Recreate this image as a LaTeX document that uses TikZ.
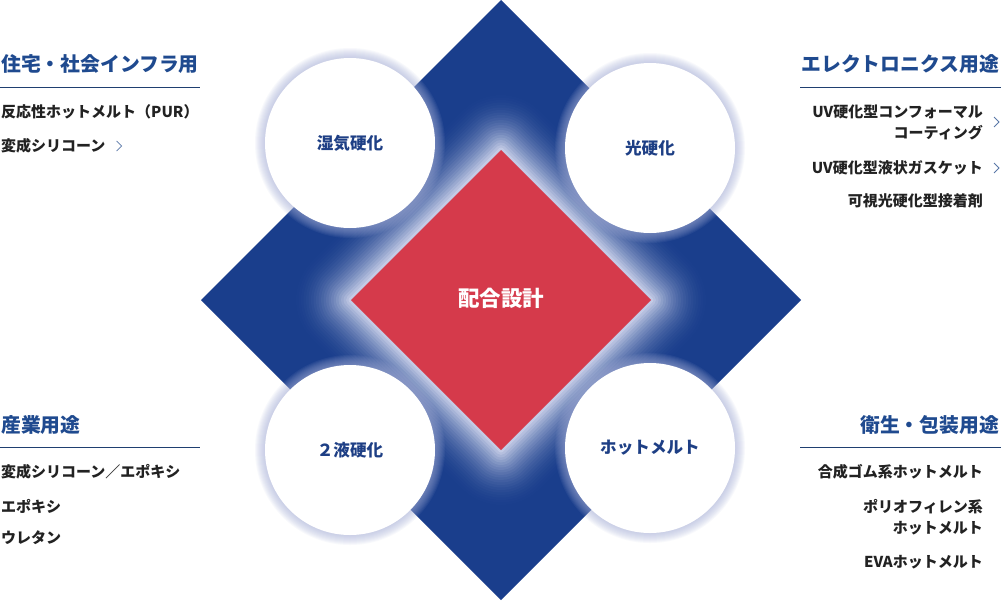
\documentclass[tikz,border=0pt]{standalone}
\usepackage{fontspec}
\setmainfont{Noto Sans CJK JP}
\usepackage{tikz}
\usetikzlibrary{positioning,calc}
\definecolor{diamondblue}{HTML}{1A3E8C}
\definecolor{corered}{HTML}{D53A4B}
\definecolor{glowwhite}{HTML}{D2D8EE}
\definecolor{halo}{HTML}{A9B2DA}
\definecolor{headblue}{HTML}{1F4A8F}
\definecolor{ruleblue}{HTML}{1F3F70}
\definecolor{cureblue}{HTML}{1E3F85}
\definecolor{itemgray}{HTML}{222222}
\definecolor{chevblue}{HTML}{5A78A8}
\tikzset{
  head/.style={font=\fontsize{19.8}{23}\selectfont\bfseries, text=headblue, inner sep=0pt},
  item/.style={font=\fontsize{15}{21}\selectfont\bfseries, text=itemgray, inner sep=0pt},
  cure/.style={circle, fill=white, minimum size=170pt, inner sep=0pt,
    font=\fontsize{16.6}{18}\selectfont\bfseries, text=cureblue},
  rule/.style={draw=ruleblue, line width=0.9pt},
  chev/.style={draw=chevblue, line width=0.8pt}
}
\newcommand\chevron[1]{\draw[chev] ([xshift=11pt,yshift=5pt]#1.east) -- ++(5pt,-5pt) -- ++(-5pt,-5pt);}

\begin{document}
\begin{tikzpicture}[x=1pt, y=-1pt]
\useasboundingbox (0,0) rectangle (1001,600);
\fill[white] (0,0) rectangle (1001,600);
%%%%% Diamonds %%%%%
\coordinate (mid) at (501,300);
\fill[diamondblue] (mid) ++(0,-300) -- ++(300,300) -- ++(-300,300) -- ++(-300,-300) -- cycle;
\foreach \k in {0,...,23}{
\pgfmathsetmacro\p{100*(\k/24)^2}
\pgfmathsetmacro\w{120-5*\k}
\draw[draw=glowwhite!\p!diamondblue, line width=\w pt, line join=round]
  (mid) ++(0,-150) -- ++(150,150) -- ++(-150,150) -- ++(-150,-150) -- cycle;
}
\fill[corered] (mid) ++(0,-150) -- ++(150,150) -- ++(-150,150) -- ++(-150,-150) -- cycle;
\node[font=\fontsize{21.5}{24}\selectfont\bfseries, text=white] (core) at (501,298) {配合設計};
%%%%% Circles %%%%%
\foreach \x/\y in {350/143, 650/148, 350/450, 650/448}{
\foreach \r in {86,...,95}{
\fill[halo, opacity=0.08] (\x,\y) circle (\r pt);
}
}
\node[cure] (moist) at (350,143) {湿気硬化};
\node[cure] (light) at (650,148) {光硬化};
\node[cure] (twopart) at (350,450) {２液硬化};
\node[cure] (hotmelt) at (650,448) {ホットメルト};
%%%%% Top left %%%%%
\node[head, anchor=west] (infra) at (1,64) {住宅・社会インフラ用};
\draw[rule] (0,87) -- (200,87);
\node[item, anchor=west] (pur) at (1,112) {反応性ホットメルト（PUR）};
\node[item, anchor=west] (silicone) at (1,146) {変成シリコーン};
\chevron{silicone}
%%%%% Top right %%%%%
\node[head, anchor=east] (elec) at (999,64) {エレクトロニクス用途};
\draw[rule] (800,87) -- (1001,87);
\node[item, anchor=east, align=right] (conformal) at (983,122) {UV硬化型コンフォーマル\\コーティング};
\chevron{conformal}
\node[item, anchor=east] (gasket) at (983,168) {UV硬化型液状ガスケット};
\chevron{gasket}
\node[item, anchor=east] (visible) at (983,201) {可視光硬化型接着剤};
%%%%% Bottom left %%%%%
\node[head, anchor=west] (industry) at (1,425) {産業用途};
\draw[rule] (0,447) -- (200,447);
\node[item, anchor=west] (epoxymix) at (1,472) {変成シリコーン／エポキシ};
\node[item, anchor=west] (epoxy) at (1,506) {エポキシ};
\node[item, anchor=west] (urethane) at (1,538) {ウレタン};
%%%%% Bottom right %%%%%
\node[head, anchor=east] (hygiene) at (999,425) {衛生・包装用途};
\draw[rule] (800,447) -- (1001,447);
\node[item, anchor=east] (rubber) at (983,472) {合成ゴム系ホットメルト};
\node[item, anchor=east, align=right] (olefin) at (983,517) {ポリオフィレン系\\ホットメルト};
\node[item, anchor=east] (eva) at (983,562) {EVAホットメルト};
\end{tikzpicture}
\end{document}
